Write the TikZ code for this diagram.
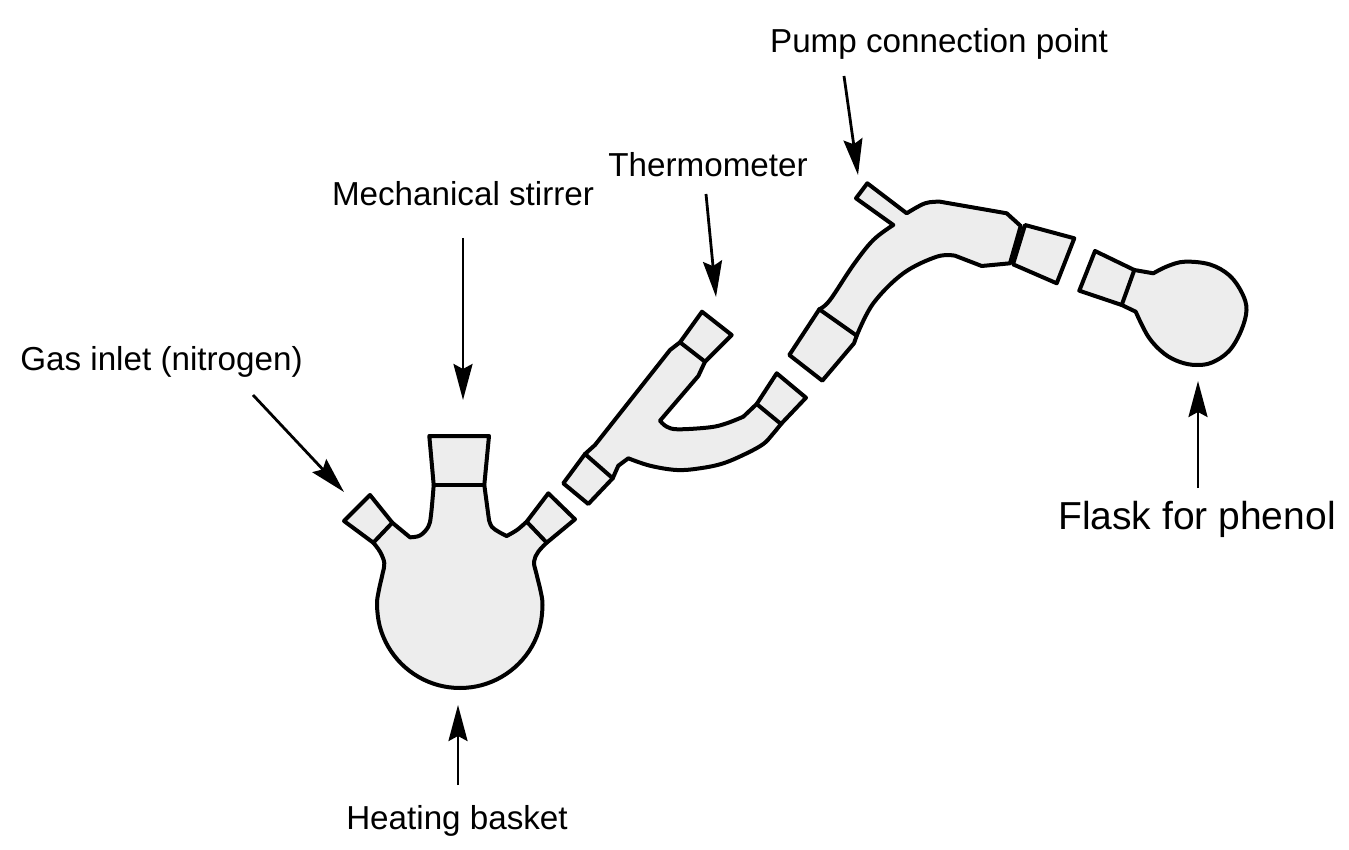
\documentclass[tikz,border=0pt]{standalone}
\usepackage{fontspec}
\setmainfont{Liberation Sans}
\usetikzlibrary{arrows.meta}
\tikzset{
  glass/.style={draw=black,fill=black!7,line width=4pt,line join=round,line cap=round},
  seam/.style={draw=black,line width=4pt,line cap=round},
  lbl/.style={inner sep=0pt,font=\fontsize{33.2}{38}\selectfont,anchor=base},
  lblbig/.style={inner sep=0pt,font=\fontsize{39}{44}\selectfont,anchor=base},
  pointer/.style={draw=black,line width=2.8pt,-{Stealth[length=36pt,width=19pt,inset=5pt]}}
}
\begin{document}
\begin{tikzpicture}[x=1pt,y=-1pt]
\useasboundingbox (0,0) rectangle (1349,850);
% round flask
\draw[glass] (429.3,436) -- (489,436) -- (484.3,485) -- (489,520)
  -- plot[smooth,tension=0.6] coordinates {(489,520) (492,527) (499,532) (506.7,536)}
  -- plot[smooth,tension=0.5] coordinates {(506.7,536) (517,530) (526.7,521.7)}
  -- (548.3,493.3) -- (575,519.3) -- (546.7,542.7)
  -- plot[smooth,tension=0.6] coordinates {(546.7,542.7) (538.3,551.7) (534,561.7) (536.5,574) (540.5,590.6) (542.5,605) (540,626.5) (531.9,646.5) (518.7,663.7) (501.5,676.9) (481.5,685.2) (460,688) (438.5,685.2) (418.5,676.9) (401.3,663.7) (388.1,646.5) (379.8,626.5) (377,605) (378.8,590.6) (382.5,574) (384.3,563) (380,551.7) (373.3,542.7)}
  -- (344,521) -- (370,495) -- (392.3,522.7) -- (410,537.3)
  -- plot[smooth,tension=0.6] coordinates {(410,537.3) (420,535.5) (428.3,526.7) (431,515) (433.7,485)}
  -- cycle;
\draw[seam] (433.7,485) -- (484.3,485);
\draw[seam] (373.3,542.7) -- (392.3,522.7);
\draw[seam] (526.7,521.7) -- (546.7,542.7);
% Y adapter
\draw[glass] (585,454) -- (563.3,483.3) -- (588.3,504) -- (612.7,478.3) -- (618.3,465.7) -- (628.3,458.3)
  -- plot[smooth,tension=0.6] coordinates {(628.3,458.3) (650,465.7) (676.7,470) (700,468.3) (723.3,463.3) (746.7,453.3) (763.3,444) (772,435) (781,424)}
  -- (806,397.7) -- (776.7,373.3) -- (756.7,404) -- (743.3,416.7)
  -- plot[smooth,tension=0.6] coordinates {(743.3,416.7) (726.7,423.3) (710,427.3) (678.3,429.3) (666.7,426.7) (660,420.7)}
  -- (698.3,376) -- (705,361.7) -- (731.7,335) -- (702,311.7) -- (680,342.3) -- (670,350) -- (595,445) -- cycle;
\draw[seam] (585,454) -- (612.7,478.3);
\draw[seam] (680,342.3) -- (705,361.7);
\draw[seam] (756.7,404) -- (781,424);
% still head
\draw[glass] (819.3,309.3) -- (789.3,355) -- (822.3,380.7) -- (854,343.3) -- (856.7,335.7)
  -- plot[smooth,tension=0.6] coordinates {(856.7,335.7) (873.3,303.3) (903.3,273.3) (936.7,256.7) (955,255.7)}
  -- (981.7,266) -- (1010,263.3)
  -- (1020.7,226) -- (1006.7,213.3) -- (940,201.7)
  -- plot[smooth,tension=0.6] coordinates {(940,201.7) (925,203.3) (906.7,213.3)}
  -- (867.3,183.3) -- (856,198.3) -- (893.3,225)
  -- plot[smooth,tension=0.6] coordinates {(893.3,225) (873.3,240) (853.3,265) (830,300) (819.3,309.3)}
  -- cycle;
\draw[seam] (819.3,309.3) -- (856.7,335.7);
\draw[glass] (1025,225) -- (1074.3,238.3) -- (1056.7,283.3) -- (1013,264.3) -- cycle;
% phenol flask
\draw[glass] (1095,251) -- (1079.3,290.7) -- (1121.7,305) -- (1135.7,311.7)
  -- plot[smooth,tension=0.6] coordinates {(1135.7,311.7) (1148.3,336.7) (1164,353.5) (1180,362) (1196,365) (1212,362.5) (1229,351) (1241,331) (1246.5,310) (1242,293) (1229.5,275.5) (1210,264.5) (1185,261.7) (1168,266) (1153.3,273.3)}
  -- (1134.3,270) -- cycle;
\draw[seam] (1121.7,305) -- (1134.3,270);
% labels
\node[lbl] (gas) at (161.5,370) {Gas inlet (nitrogen)};
\node[lbl] (stirrer) at (463,206) {Mechanical stirrer};
\node[lbl] (thermo) at (708,177) {Thermometer};
\node[lbl] (pump) at (939,53) {Pump connection point};
\node[lblbig] (phenol) at (1197,529) {Flask for phenol};
\node[lbl] (basket) at (457,829) {Heating basket};
% pointers
\coordinate (gasA) at (253,395); \coordinate (gasB) at (344,492);
\coordinate (stA) at (463,238); \coordinate (stB) at (463,400);
\coordinate (thA) at (706,194); \coordinate (thB) at (716,297);
\coordinate (puA) at (844,76); \coordinate (puB) at (858,175);
\coordinate (phA) at (1198,488); \coordinate (phB) at (1198,381);
\coordinate (baA) at (458,785); \coordinate (baB) at (458,705);
\draw[pointer] (gasA) -- (gasB);
\draw[pointer] (stA) -- (stB);
\draw[pointer] (thA) -- (thB);
\draw[pointer] (puA) -- (puB);
\draw[pointer] (phA) -- (phB);
\draw[pointer] (baA) -- (baB);
\end{tikzpicture}
\end{document}
